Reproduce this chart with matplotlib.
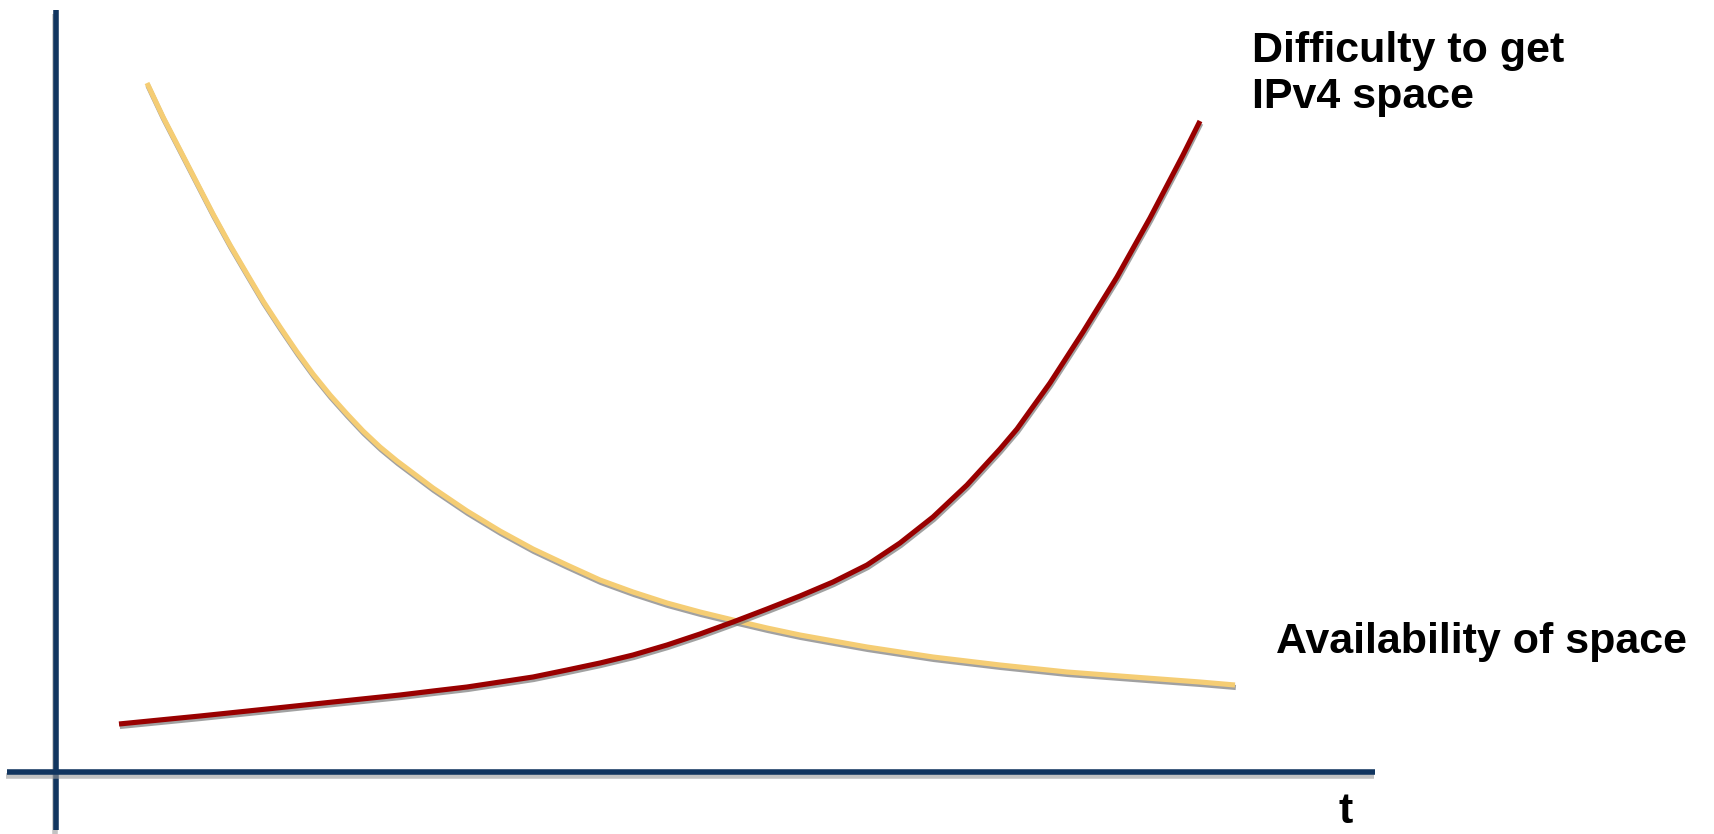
import matplotlib
matplotlib.use("Agg")
import matplotlib.pyplot as plt
import matplotlib.patheffects as pe

# ---- data ----
avail_t = [0.91, 1.07, 1.24, 1.41, 1.57, 1.74, 1.91, 2.07, 2.24, 2.41, 2.57,
           2.74, 2.91, 3.07, 3.24, 3.41, 3.77, 4.11, 4.44, 4.77, 5.11, 5.44,
           5.77, 6.11, 6.44, 6.77, 7.11, 7.44, 8.11, 8.77, 9.44, 10.11, 10.77,
           11.44, 11.79]
avail_y = [6.89, 6.55, 6.22, 5.89, 5.58, 5.27, 4.98, 4.71, 4.45, 4.20, 3.98,
           3.77, 3.58, 3.41, 3.25, 3.11, 2.84, 2.61, 2.41, 2.23, 2.07, 1.92,
           1.80, 1.69, 1.60, 1.52, 1.44, 1.37, 1.25, 1.15, 1.07, 1.00, 0.95,
           0.90, 0.87]

diff_t = [0.63, 1.44, 2.11, 2.77, 3.44, 3.77, 4.11, 4.44, 4.77, 5.11, 5.44,
          5.77, 6.11, 6.44, 6.77, 7.11, 7.44, 7.77, 8.11, 8.44, 8.77, 9.11,
          9.44, 9.61, 9.94, 10.27, 10.61, 10.94, 11.27, 11.44]
diff_y = [0.48, 0.56, 0.63, 0.70, 0.77, 0.81, 0.85, 0.90, 0.95, 1.02, 1.09,
          1.17, 1.27, 1.38, 1.50, 1.63, 1.76, 1.90, 2.07, 2.29, 2.55, 2.87,
          3.23, 3.43, 3.89, 4.40, 4.95, 5.54, 6.17, 6.51]

label_difficulty = "Difficulty to get\nIPv4 space"
label_availability = "Availability of space"
label_t = "t"

# ---- figure ----
plt.rcParams['font.family'] = ['Liberation Sans', 'DejaVu Sans']
fig = plt.figure(figsize=(17.14, 8.34), dpi=100)
ax = fig.add_axes([0, 0, 1, 1])
ax.set_xlim(-0.56, 16.58)
ax.set_ylim(-0.62, 7.72)

navy = '#11355f'
line_shadow = [pe.SimpleLineShadow(offset=(0.6, -1.8), shadow_color='#7a7a7a', alpha=0.7),
               pe.Normal()]
axis_shadow = [pe.SimpleLineShadow(offset=(-0.8, -2.6), shadow_color='#9a9a9a', alpha=0.6),
               pe.Normal()]

for s in ['top', 'right']:
    ax.spines[s].set_visible(False)
ax.spines['left'].set_position(('data', 0))
ax.spines['bottom'].set_position(('data', 0))
ax.spines['left'].set_bounds(-0.58, 7.62)
ax.spines['bottom'].set_bounds(-0.49, 13.19)
for s in ['left', 'bottom']:
    ax.spines[s].set_color(navy)
    ax.spines[s].set_linewidth(4.0)
    ax.spines[s].set_capstyle('butt')
    ax.spines[s].set_path_effects(axis_shadow)
ax.set_xticks([])
ax.set_yticks([])

ax.plot(avail_t, avail_y, color='#f5cd74', lw=3.7, solid_capstyle='butt',
        solid_joinstyle='round', path_effects=line_shadow, zorder=3)
ax.plot(diff_t, diff_y, color='#990000', lw=3.7, solid_capstyle='butt',
        solid_joinstyle='round', path_effects=line_shadow, zorder=4)

ax.text(11.96, 6.64, label_difficulty, fontsize=31, fontweight='bold',
        ha='left', va='baseline', linespacing=1.19, color='black')
ax.text(12.20, 1.19, label_availability, fontsize=31, fontweight='bold',
        ha='left', va='baseline', color='black')
ax.text(12.82, -0.51, label_t, fontsize=31, fontweight='bold',
        ha='left', va='baseline', color='black')

fig.savefig('out.png', dpi=100)
